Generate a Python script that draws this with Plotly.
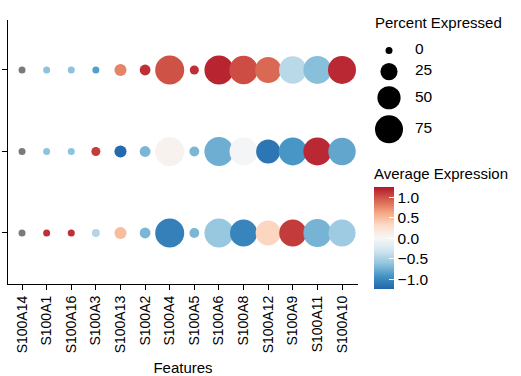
import numpy as np
import plotly.graph_objects as go

features = ["S100A14", "S100A1", "S100A16", "S100A3", "S100A13", "S100A2", "S100A4",
            "S100A5", "S100A6", "S100A8", "S100A12", "S100A9", "S100A11", "S100A10"]
# group labels are cut off in the reference, top row first
groups = ["Group 1", "Group 2", "Group 3"]

# average expression (scaled); None = not computable (drawn grey)
avg_exp_g1 = [None, -0.62, -0.62, -0.85, 0.78, 1.15, 1.00, 1.15, 1.20, 1.02, 0.90, -0.42, -0.65, 1.18]
avg_exp_g2 = [None, -0.62, -0.62, 1.10, -1.20, -0.70, 0.07, -0.70, -0.75, -0.02, -1.12, -0.90, 1.18, -0.80]
avg_exp_g3 = [None, 1.15, 1.15, -0.45, 0.50, -0.70, -1.05, -0.70, -0.58, -1.02, 0.35, 1.10, -0.72, -0.55]

# percent of cells expressing
pct_exp_g1 = [0, 0, 0, 0, 10, 7, 81, 3.5, 81, 78, 64, 72, 75, 75]
pct_exp_g2 = [0, 0, 0, 3.3, 10, 7, 81, 5, 81, 75, 54, 75, 75, 72]
pct_exp_g3 = [0, 0, 0, 1.5, 10, 7, 81, 5, 81, 70, 59, 70, 75, 70]

size_breaks = [0, 25, 50, 75]
color_ticks = [-1.0, -0.5, 0.0, 0.5, 1.0]
color_min, color_max = -1.23, 1.25

rdbu = ["#2166ac", "#4393c3", "#92c5de", "#d1e5f0", "#f7f7f7",
        "#fddbc7", "#f4a582", "#d6604d", "#b2182b"]
colorscale = [[i / (len(rdbu) - 1), c] for i, c in enumerate(rdbu)]
FONT = "Arial, Liberation Sans, sans-serif"


def dot_size(p):
    # area-like scaling, px diameter
    return 2 * np.sqrt(12.25 + 2.45 * np.asarray(p, dtype=float))


W, H = 521, 376
ML, MR, MT, MB = 8, 10, 20, 92
pw = W - ML - MR
ph = H - MT - MB

xs, ys, cs, ss = [], [], [], []
gx, gy, gs = [], [], []
for g, avg, pct in zip(groups, [avg_exp_g1, avg_exp_g2, avg_exp_g3],
                       [pct_exp_g1, pct_exp_g2, pct_exp_g3]):
    for f, a, p in zip(features, avg, pct):
        if a is None:
            gx.append(f); gy.append(g); gs.append(p)
        else:
            xs.append(f); ys.append(g); cs.append(a); ss.append(p)

fig = go.Figure()
fig.add_trace(go.Scatter(
    x=gx, y=gy, mode="markers", hoverinfo="skip",
    marker=dict(size=dot_size(gs), color="#7a7a7a", line=dict(width=0), opacity=1),
    showlegend=False))
fig.add_trace(go.Scatter(
    x=xs, y=ys, mode="markers",
    marker=dict(size=dot_size(ss), color=cs, colorscale=colorscale,
                cmin=color_min, cmax=color_max, line=dict(width=0), opacity=1,
                colorbar=dict(
                    title=dict(text="Average Expression", side="top",
                               font=dict(size=15, color="black", family=FONT)),
                    thickness=20, len=124, lenmode="pixels",
                    x=(374 - ML) / pw, xanchor="left", xpad=0,
                    y=(H - MB - 289) / ph, yanchor="bottom", ypad=0,
                    tickvals=color_ticks,
                    ticktext=[f"{v:.1f}".replace("-", "\u2212") for v in color_ticks],
                    ticks="inside", tickcolor="white", ticklen=5,
                    outlinewidth=0, tickfont=dict(size=15.5, color="black", family=FONT))),
    showlegend=False))

# size legend
leg_d = dot_size(size_breaks)
key_h = np.maximum(leg_d + 6, 19)
centers = [50.5]
for i in range(1, len(size_breaks)):
    centers.append(centers[-1] + (key_h[i - 1] + key_h[i]) / 2)
fig.add_trace(go.Scatter(
    x=[389] * len(size_breaks), y=centers, mode="markers", xaxis="x2", yaxis="y2",
    marker=dict(size=leg_d, color="black", line=dict(width=0), opacity=1),
    cliponaxis=False, hoverinfo="skip", showlegend=False))
fig.add_trace(go.Scatter(
    x=[415] * len(size_breaks), y=centers, mode="text", xaxis="x2", yaxis="y2",
    text=[str(b) for b in size_breaks], textposition="middle right",
    textfont=dict(size=15.5, color="black", family=FONT),
    cliponaxis=False, hoverinfo="skip", showlegend=False))
fig.add_annotation(x=374, y=22, xref="x2", yref="y2", text="Percent Expressed",
                   showarrow=False, xanchor="left", yanchor="middle",
                   xshift=-1, font=dict(size=15, color="black", family=FONT))

n = len(features)
fig.update_layout(
    width=W, height=H,
    margin=dict(l=ML, r=MR, t=MT, b=MB, autoexpand=False),
    paper_bgcolor="white", plot_bgcolor="white",
    font=dict(family=FONT, size=14, color="black"),
    xaxis=dict(domain=[0, 350 / pw], type="category", categoryorder="array",
               categoryarray=features, range=[-0.57, n - 1 + 0.65],
               showgrid=False, zeroline=False, showline=True, linecolor="black",
               linewidth=1.3, ticks="outside", ticklen=5, tickcolor="black",
               tickangle=-90, tickfont=dict(size=14, family=FONT, color="black"),
               title=dict(text="Features", font=dict(size=15, family=FONT), standoff=10)),
    yaxis=dict(type="category", categoryorder="array", categoryarray=groups,
               range=[len(groups) - 1 + 0.626, -0.613],
               showgrid=False, zeroline=False, showline=True, linecolor="black",
               linewidth=1.3, ticks="outside", ticklen=5, tickcolor="black",
               showticklabels=False),
    xaxis2=dict(domain=[(374 - ML) / pw, (430 - ML) / pw], range=[374, 430],
                anchor="y2", visible=False),
    yaxis2=dict(domain=[0, 1], range=[H - MB, MT], anchor="x2", visible=False),
)

# page body has a default 8px margin; drop it so the figure sits at the window corner
fig.write_html("out.html", config={"displayModeBar": False},
               post_script="document.body.style.margin='0';")
